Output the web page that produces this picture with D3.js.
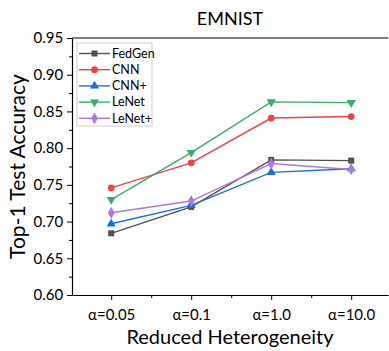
<!DOCTYPE html>
<html>
<head>
<meta charset="utf-8">
<script src="https://cdn.jsdelivr.net/npm/d3@7"></script>
<style>
  body { margin: 0; background: #fff; }
  text { font-family: Lato, "Open Sans", sans-serif; fill: #000; }
</style>
</head>
<body>
<svg id="drawing_region"></svg>
<script>
var categories = ['α=0.05', 'α=0.1', 'α=1.0', 'α=10.0'];
var fedgen = [0.684, 0.720, 0.784, 0.783];
var cnn = [0.746, 0.780, 0.841, 0.843];
var cnnPlus = [0.697, 0.722, 0.767, 0.772];
var lenet = [0.730, 0.794, 0.863, 0.862];
var lenetPlus = [0.712, 0.728, 0.779, 0.771];
var yTicks = [0.60, 0.65, 0.70, 0.75, 0.80, 0.85, 0.90, 0.95];

var series = [
  {name: 'FedGen', values: fedgen, color: '#515151', symbol: d3.symbolSquare, size: 36, rot: 0},
  {name: 'CNN', values: cnn, color: '#F14040', symbol: d3.symbolCircle, size: 36, rot: 0},
  {name: 'CNN+', values: cnnPlus, color: '#1A6FDF', symbol: d3.symbolTriangle, size: 36, rot: 0},
  {name: 'LeNet', values: lenet, color: '#37AD6B', symbol: d3.symbolTriangle, size: 36, rot: 180},
  {name: 'LeNet+', values: lenetPlus, color: '#B177DE', symbol: d3.symbolDiamond, size: 40, rot: 0}
];

var width = 389;
var height = 351;
var margin = {top: 38, right: 1, bottom: 56, left: 72};

var svg = d3.select('#drawing_region')
    .attr('width', width)
    .attr('height', height);

var chart = svg.append('g')
    .attr('transform', `translate(${margin.left}, ${margin.top})`);

const inner_width = width - margin.left - margin.right;
const inner_height = height - margin.top - margin.bottom;

// x: category index, half a step of room on each side
const xscale = d3.scaleLinear()
      .domain([-0.49, 3.46])
      .range([0, inner_width]);

const yscale = d3.scaleLinear()
      .domain([0.60, 0.95])
      .range([inner_height, 0]);

// minor ticks first
chart.append('g')
    .attr('transform', `translate(0, ${inner_height})`)
    .call(d3.axisBottom(xscale).tickValues([0.5, 1.5, 2.5]).tickSize(3).tickFormat(''))
    .call(g => g.select('.domain').remove());

chart.append('g')
    .call(d3.axisLeft(yscale).tickValues(d3.range(0.625, 0.95, 0.05)).tickSize(3).tickFormat(''))
    .call(g => g.select('.domain').remove());

const xaxis = d3.axisBottom(xscale)
      .tickValues([0, 1, 2, 3])
      .tickFormat(i => categories[i])
      .tickSize(5)
      .tickSizeOuter(0);

const yaxis = d3.axisLeft(yscale)
      .tickValues(yTicks)
      .tickFormat(d3.format('.2f'))
      .tickSize(5)
      .tickSizeOuter(0);

const xaxis_group = chart.append('g')
      .attr('transform', `translate(0, ${inner_height})`)
      .call(xaxis);
xaxis_group.selectAll('text').attr('font-size', 15).attr('dy', '1.1em');

const yaxis_group = chart.append('g')
      .call(yaxis);
yaxis_group.selectAll('text').attr('font-size', 15).attr('dx', '-0.05em');

chart.selectAll('.domain').attr('stroke-width', 1.2);
chart.selectAll('.tick line').attr('stroke-width', 1);

// top frame line
chart.append('line')
    .attr('x1', 0).attr('x2', inner_width)
    .attr('y1', 0).attr('y2', 0)
    .attr('stroke', '#000').attr('stroke-width', 1.2);

// lines and markers
const line = d3.line()
      .x((d, i) => xscale(i))
      .y(d => yscale(d));

series.forEach(s => {
  chart.append('path')
      .datum(s.values)
      .attr('d', line)
      .attr('fill', 'none')
      .attr('stroke', s.color)
      .attr('stroke-width', 1.4);
  chart.selectAll(null).data(s.values).enter()
      .append('path')
      .attr('d', d3.symbol().type(s.symbol).size(s.size))
      .attr('transform', (d, i) => `translate(${xscale(i)}, ${yscale(d)}) rotate(${s.rot})`)
      .attr('fill', s.color);
});

// legend
const legend = chart.append('g')
      .attr('transform', 'translate(5, 5)');
legend.append('rect')
    .attr('x', 0).attr('y', 0)
    .attr('width', 75).attr('height', 83)
    .attr('fill', '#fff')
    .attr('stroke', '#ccc')
    .attr('stroke-width', 1);

series.forEach((s, i) => {
  const row = legend.append('g')
      .attr('transform', `translate(0, ${10.5 + i * 16.2})`);
  row.append('line')
      .attr('x1', 2).attr('x2', 33)
      .attr('stroke', s.color)
      .attr('stroke-width', 1.4);
  row.append('path')
      .attr('d', d3.symbol().type(s.symbol).size(s.size))
      .attr('transform', `translate(17.5, 0) rotate(${s.rot})`)
      .attr('fill', s.color);
  row.append('text')
      .attr('x', 35)
      .attr('dy', '0.35em')
      .attr('font-size', 12.5)
      .text(s.name);
});

// titles
svg.append('text')
    .attr('x', margin.left + inner_width / 2)
    .attr('y', 25)
    .attr('text-anchor', 'middle')
    .attr('font-size', 18)
    .text('EMNIST');

svg.append('text')
    .attr('x', margin.left + inner_width / 2)
    .attr('y', 344)
    .attr('text-anchor', 'middle')
    .attr('font-size', 20)
    .text('Reduced Heterogeneity');

svg.append('text')
    .attr('transform', `translate(25, ${margin.top + inner_height / 2}) rotate(-90)`)
    .attr('text-anchor', 'middle')
    .attr('font-size', 21)
    .text('Top-1 Test Accuracy');
</script>
</body>
</html>
